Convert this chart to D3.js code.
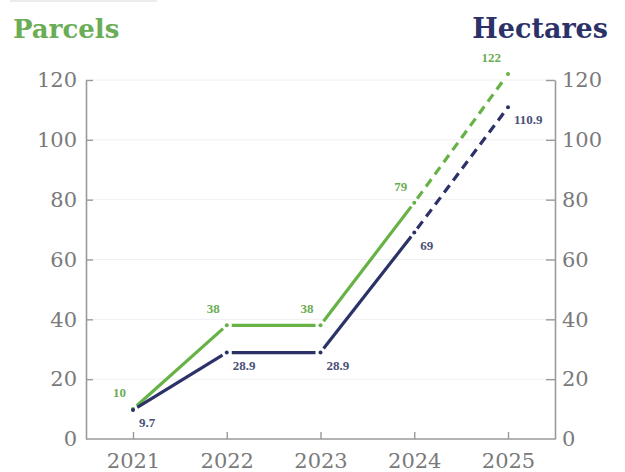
<!DOCTYPE html>
<html>
<head>
<meta charset="utf-8">
<script src="https://cdn.jsdelivr.net/npm/d3@7"></script>
<style>
  html, body { margin: 0; padding: 0; background: #fff; }
  svg { display: block; }
</style>
</head>
<body>
<svg id="chart" width="625" height="472"></svg>
<script>
const years = ["2021", "2022", "2023", "2024", "2025"];
const parcels = [10, 38, 38, 79, 122];
const hectares = [9.7, 28.9, 28.9, 69, 110.9];
const parcelLabels = ["10", "38", "38", "79", "122"];
const hectareLabels = ["9.7", "28.9", "28.9", "69", "110.9"];
const yTicks = [0, 20, 40, 60, 80, 100, 120];

(function () {
const GREEN = "#66b245";
const GREEN_TXT = "#6aad55";
const NAVY = "#2c3268";
const NAVY_TXT = "#4a4f78";
const AXIS = "#9a9a9a";
const TICKTXT = "#7a7a7a";

const svg = d3.select("#chart");
const mLeft = 86, mRight = 555, mTop = 80, mBottom = 439;

const x = d3.scalePoint().domain(years).range([133, 508]);
const y = d3.scaleLinear().domain([0, 120]).range([mBottom, mTop]);

svg.append("line").attr("x1", 10).attr("x2", 157).attr("y1", 1).attr("y2", 1)
  .attr("stroke", "#e6e6e6").attr("stroke-width", 1.5);

svg.append("g").selectAll("line").data(yTicks.filter(d => d > 0)).join("line")
  .attr("x1", mLeft).attr("x2", mRight)
  .attr("y1", d => y(d)).attr("y2", d => y(d))
  .attr("stroke", "#f0f0f0").attr("stroke-width", 1);

const tickFont = "'DejaVu Serif', serif";

const gl = svg.append("g").attr("transform", `translate(${mLeft},0)`)
  .call(d3.axisLeft(y).tickValues(yTicks).tickSize(-7).tickSizeOuter(0).tickPadding(9));
const gr = svg.append("g").attr("transform", `translate(${mRight},0)`)
  .call(d3.axisRight(y).tickValues(yTicks).tickSize(-9).tickSizeOuter(0).tickPadding(7));
const gb = svg.append("g").attr("transform", `translate(0,${mBottom})`)
  .call(d3.axisBottom(x).tickSize(-7).tickSizeOuter(0).tickPadding(14));
gb.select(".domain").remove();
svg.append("line").attr("x1", mLeft).attr("x2", mRight).attr("y1", mBottom).attr("y2", mBottom)
  .attr("stroke", AXIS).attr("stroke-width", 1.6);

[gl, gr, gb].forEach(g => {
  g.selectAll(".domain").attr("stroke", AXIS).attr("stroke-width", 1.6);
  g.selectAll(".tick line").attr("stroke", AXIS).attr("stroke-width", 1.4);
  g.selectAll(".tick text").attr("fill", TICKTXT)
    .style("font-family", tickFont).style("font-size", "21px");
});
gl.selectAll(".tick").filter(d => d === 0).select("line").remove();
gr.selectAll(".tick").filter(d => d === 0).select("line").remove();

function drawSeries(values, color) {
  const pts = values.map((v, i) => [x(years[i]), y(v)]);
  const g = svg.append("g");
  const gap = 5;
  for (let i = 0; i < pts.length - 1; i++) {
    const [x1, y1] = pts[i], [x2, y2] = pts[i + 1];
    const len = Math.hypot(x2 - x1, y2 - y1);
    const ux = (x2 - x1) / len, uy = (y2 - y1) / len;
    const dashed = i === pts.length - 2;
    g.append("line")
      .attr("x1", x1 + ux * gap).attr("y1", y1 + uy * gap)
      .attr("x2", x2 - ux * gap).attr("y2", y2 - uy * gap)
      .attr("stroke", color).attr("stroke-width", 3.2)
      .attr("stroke-dasharray", dashed ? "9,6" : null);
  }
  g.selectAll("circle").data(pts).join("circle")
    .attr("cx", d => d[0]).attr("cy", d => d[1]).attr("r", 2)
    .attr("fill", color);
  return pts;
}
const gp = drawSeries(parcels, GREEN);
const hp = drawSeries(hectares, NAVY);

const labFont = "'Liberation Serif', serif";
svg.append("g").selectAll("text").data(gp).join("text")
  .attr("x", d => d[0] - 7).attr("y", d => d[1] - 12)
  .attr("text-anchor", "end")
  .attr("fill", GREEN_TXT)
  .style("font-family", labFont).style("font-size", "13px").style("font-weight", "bold")
  .text((d, i) => parcelLabels[i]);
svg.append("g").selectAll("text").data(hp).join("text")
  .attr("x", d => d[0] + 6).attr("y", d => d[1] + 17)
  .attr("text-anchor", "start")
  .attr("fill", NAVY_TXT)
  .style("font-family", labFont).style("font-size", "13px").style("font-weight", "bold")
  .text((d, i) => hectareLabels[i]);

svg.append("text").attr("x", 13).attr("y", 38)
  .attr("fill", GREEN_TXT)
  .style("font-family", tickFont).style("font-size", "26px").style("font-weight", "bold")
  .text("Parcels");
svg.append("text").attr("x", 608).attr("y", 38).attr("text-anchor", "end")
  .attr("fill", NAVY)
  .style("font-family", tickFont).style("font-size", "27px").style("font-weight", "bold")
  .text("Hectares");
})();
</script>
</body>
</html>
